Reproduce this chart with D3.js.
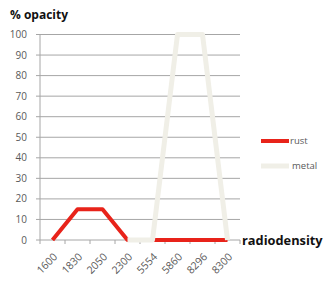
<!DOCTYPE html>
<html>
<head>
<meta charset="utf-8">
<script src="https://cdn.jsdelivr.net/npm/d3@7"></script>
<style>
  body { margin: 0; background: #fff; }
  text { font-family: "Open Sans", "Liberation Sans", sans-serif; }
</style>
</head>
<body>
<div id="chart"></div>
<script>
const categories = ["1600", "1830", "2050", "2300", "5554", "5860", "8296", "8300"];
const rust = [0, 15, 15, 0, 0, 0, 0, 0];
const metal = [null, null, null, 0, 0, 100, 100, 0];
const yTicks = [0, 10, 20, 30, 40, 50, 60, 70, 80, 90, 100];

const width = 325, height = 282;
const margin = { top: 34.5, left: 40, right: 85, bottom: 42 };
const plotW = 200, plotH = 240 - 34.5;

const svg = d3.select("#chart").append("svg")
    .attr("width", width)
    .attr("height", height);

const g = svg.append("g")
    .attr("transform", `translate(${margin.left},${margin.top})`);

const x = d3.scaleBand().domain(categories).range([0, plotW]);
const y = d3.scaleLinear().domain([0, 100]).range([plotH, 0]);

// grid
g.selectAll(".grid").data(yTicks.filter(d => d > 0)).join("line")
    .attr("x1", 0).attr("x2", plotW)
    .attr("y1", d => y(d)).attr("y2", d => y(d))
    .attr("stroke", "#a6a6a6").attr("stroke-width", 1);

// y axis
g.append("line")
    .attr("x1", 0).attr("x2", 0).attr("y1", 0).attr("y2", plotH)
    .attr("stroke", "#a6a6a6");
g.selectAll(".ytick").data(yTicks).join("line")
    .attr("x1", -4).attr("x2", 0)
    .attr("y1", d => y(d)).attr("y2", d => y(d))
    .attr("stroke", "#a6a6a6");
g.selectAll(".ylab").data(yTicks).join("text")
    .attr("x", -13).attr("y", d => y(d))
    .attr("dy", "0.35em")
    .attr("text-anchor", "end")
    .attr("font-size", 10)
    .attr("fill", "#595959")
    .text(d => d);

// x axis
g.append("line")
    .attr("x1", 0).attr("x2", plotW).attr("y1", plotH).attr("y2", plotH)
    .attr("stroke", "#a6a6a6");
const bounds = categories.map(c => x(c)).concat([plotW]);
g.selectAll(".xtick").data(bounds).join("line")
    .attr("x1", d => d).attr("x2", d => d)
    .attr("y1", plotH).attr("y2", plotH + 4)
    .attr("stroke", "#a6a6a6");
g.selectAll(".xlab").data(categories).join("text")
    .attr("transform", d => `translate(${x(d) + x.bandwidth() / 2 + 3},${plotH + 15}) rotate(-45)`)
    .attr("dy", "0.35em")
    .attr("text-anchor", "end")
    .attr("font-size", 10.5)
    .attr("fill", "#595959")
    .text(d => d);

// lines
const line = d3.line()
    .defined(d => d.v !== null)
    .x(d => x(d.c) + x.bandwidth() / 2)
    .y(d => y(d.v));

const series = [
  { name: "rust", values: rust, color: "#e8231a", w: 4 },
  { name: "metal", values: metal, color: "#f0efe7", w: 5 }
];

series.forEach(s => {
  g.append("path")
    .datum(categories.map((c, i) => ({ c, v: s.values[i] })))
    .attr("d", line)
    .attr("fill", "none")
    .attr("stroke", s.color)
    .attr("stroke-width", s.w)
    .attr("stroke-linejoin", "round");
});

// legend
const legend = svg.append("g");
series.forEach((s, i) => {
  const ly = 141 + i * 25;
  legend.append("line")
    .attr("x1", 261).attr("x2", 289).attr("y1", ly).attr("y2", ly)
    .attr("stroke", s.color).attr("stroke-width", s.w);
  legend.append("text")
    .attr("x", i === 0 ? 290 : 292).attr("y", ly)
    .attr("dy", "0.35em")
    .attr("font-size", 9.5)
    .attr("fill", "#595959")
    .text(s.name);
});

// titles
svg.append("text")
    .attr("x", 10).attr("y", 19)
    .attr("font-size", 12)
    .attr("font-weight", "bold")
    .attr("fill", "#111")
    .text("% opacity");
svg.append("text")
    .attr("x", 242).attr("y", 245)
    .attr("font-size", 12.8)
    .attr("font-weight", "bold")
    .attr("fill", "#111")
    .text("radiodensity");
</script>
</body>
</html>
